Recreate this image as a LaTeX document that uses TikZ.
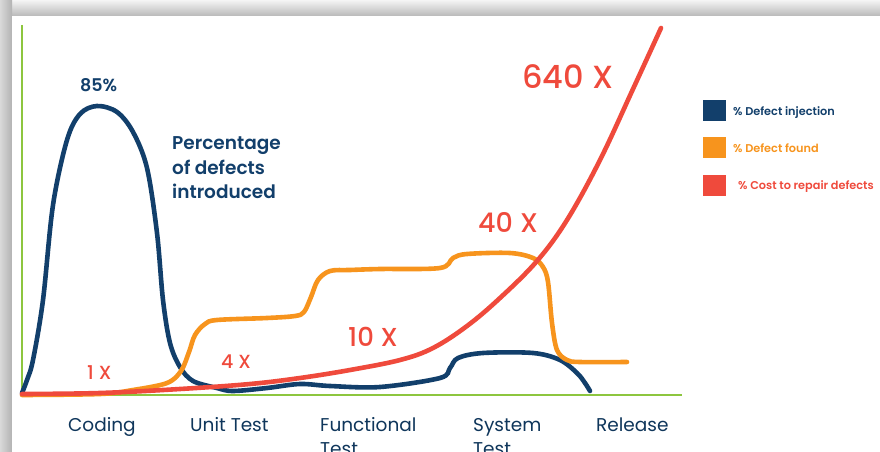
\documentclass[tikz,border=0pt]{standalone}
\usepackage{fontspec}
\setmainfont{Poppins}[BoldFont={* SemiBold}]
\newfontfamily\mediumfont{Poppins Medium}
\usetikzlibrary{positioning}

\definecolor{navy}{HTML}{123F6B}
\definecolor{amber}{HTML}{F7941D}
\definecolor{coral}{HTML}{EF4A3C}
\definecolor{lime}{HTML}{8DC63F}

\begin{document}
\begin{tikzpicture}[x=1pt, y=-1pt,
    curve/.style={line width=4.6pt, line cap=round, line join=round},
    lbl/.style={anchor=base west, inner sep=0pt},
    phase/.style={lbl, text=navy!85!black, font=\fontsize{18.5}{22}\selectfont},
    factor/.style={lbl, text=coral},
    legbox/.style={minimum width=23pt, minimum height=21pt, inner sep=0pt},
    legtxt/.style={lbl, font=\bfseries\fontsize{11.3}{13}\selectfont}]

    % Page and card with its shadow
    \useasboundingbox (0,0) rectangle (880,452);
    \shade[top color=gray!8, bottom color=gray!55] (0,0) rectangle (880,16);
    \shade[left color=gray!30, right color=gray!60] (0,0) rectangle (12,452);
    \fill[white] (12,16) rectangle (880,452);

    % Axes
    \draw[lime, line width=2pt] (22,25) -- (22,395) -- (682,395);

    % Percentage of defects injected
    \draw[curve, navy] plot[smooth, tension=0.55] coordinates {
        (22,393) (27,380) (33,360) (43,300) (53,205) (67,140) (80,114) (97,106)
        (117,112) (133,132) (147,168) (157,233) (163,300) (170,343) (180,367)
        (193,381) (217,388) (233,391) (267,388) (300,384) (330,386) (380,387)
        (440,378) (450,368) (458,358) (483,353) (533,353) (560,360)
        (577,373) (585,383) (590,391)};

    % Percentage of defects found
    \draw[curve, amber] plot[smooth, tension=0.55] coordinates {
        (22,395) (100,394) (133,390) (167,383) (181,371) (189,352) (195,335)
        (205,324) (217,320) (267,318) (295,316) (304,312) (311,297) (318,280)
        (330,271) (350,270) (380,269) (440,268) (453,258) (467,254) (510,253)
        (533,258) (543,267) (548,282) (552,323) (557,350) (567,360)
        (580,362) (627,362)};

    % Cost to repair defects
    \draw[curve, coral] plot[smooth, tension=0.6] coordinates {
        (22,394) (100,393) (180,389) (250,384) (300,378) (350,370) (400,360)
        (433,348) (467,326) (500,298) (537,261) (567,220) (600,160) (633,89)
        (661,28)};

    % Labels on the curves
    \node[lbl, text=navy, font=\bfseries\fontsize{17.5}{20}\selectfont] (peak) at (80,92) {85\%};
    \node[lbl, text=navy, font=\bfseries\fontsize{18.5}{25}\selectfont] (pct) at (172,149) {Percentage};
    \node[lbl, text=navy, font=\bfseries\fontsize{18.5}{25}\selectfont] (pct2) at (172,174) {of defects};
    \node[lbl, text=navy, font=\bfseries\fontsize{18.5}{25}\selectfont] (pct3) at (172,198) {introduced};

    \node[factor, font=\mediumfont\fontsize{19}{20}\selectfont] (x1) at (87,379) {1 X};
    \node[factor, font=\mediumfont\fontsize{19}{20}\selectfont] (x4) at (221,368) {4 X};
    \node[factor, font=\mediumfont\fontsize{26}{28}\selectfont] (x10) at (348,346) {10 X};
    \node[factor, font=\mediumfont\fontsize{27}{30}\selectfont] (x40) at (478,232) {40 X};
    \node[factor, font=\mediumfont\fontsize{32}{35}\selectfont] (x640) at (522,88) {640 X};

    % Phases along the x axis
    \node[phase] (coding) at (68,431) {Coding};
    \node[phase] (unit) at (190,431) {Unit Test};
    \node[phase] (func) at (320,431) {Functional};
    \node[phase] (functest) at ([yshift=-24pt]func.base west) {Test};
    \node[phase] (sys) at (473,431) {System};
    \node[phase] (systest) at ([yshift=-24pt]sys.base west) {Test};
    \node[phase] (release) at (596,431) {Release};

    % Legend
    \node[legbox, fill=navy] (kinj) at (714,110.5) {};
    \node[legbox, fill=amber] (kfound) at (714,147.5) {};
    \node[legbox, fill=coral] (kcost) at (714,185) {};
    \node[legtxt, text=navy] (tinj) at (733,115) {\% Defect injection};
    \node[legtxt, text=amber] (tfound) at (733,152) {\% Defect found};
    \node[legtxt, text=coral] (tcost) at (738,189.5) {\% Cost to repair defects};

\end{tikzpicture}
\end{document}
